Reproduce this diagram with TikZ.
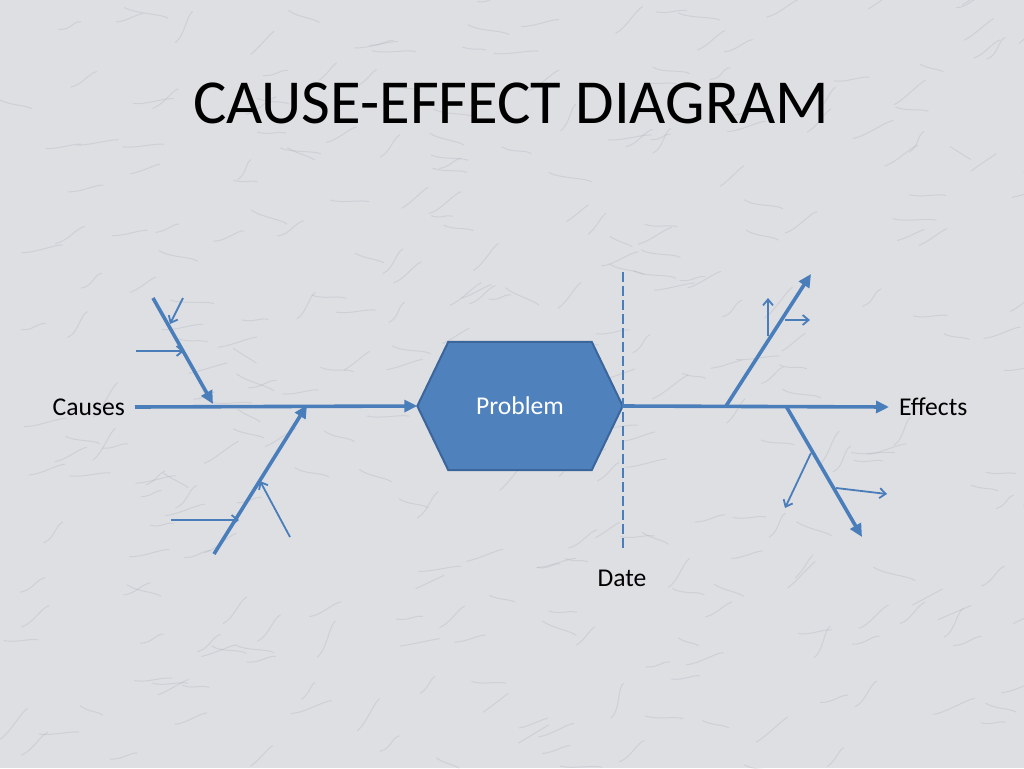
\documentclass[tikz,border=0pt]{standalone}
\usepackage{fontspec}
\setmainfont{Carlito}
\usetikzlibrary{arrows.meta,calc}

\definecolor{bone}{HTML}{4A7EBB}
\definecolor{hexfill}{HTML}{4F81BD}
\definecolor{hexline}{HTML}{3B659B}
\definecolor{marble}{HTML}{DEDFE3}
\definecolor{vein}{HTML}{9A9CA4}

\tikzset{
    spine/.style={line width=3.6pt,color=bone,-{Triangle[length=13pt,width=12pt]}},
    twig/.style={line width=1.8pt,color=bone,-{Straight Barb[length=6pt,width=10pt]}},
    lbl/.style={font=\fontsize{25.6}{30}\selectfont,text=black,inner sep=0pt},
}

\begin{document}
\begin{tikzpicture}[x=1pt,y=-1pt]
    % slide and marble background
    \useasboundingbox (0,0) rectangle (1024,768);
    \fill[marble] (0,0) rectangle (1024,768);
    \pgfmathsetseed{7}
    \foreach \i in {1,...,320} {
        \pgfmathsetmacro{\vx}{rnd*1024}
        \pgfmathsetmacro{\vy}{rnd*768}
        \pgfmathsetmacro{\va}{-40+rnd*80}
        \draw[vein,opacity=0.22,line width=1pt,line cap=round] (\vx,\vy) .. controls +(\va:12) and +(\va+180:8) .. ++(\va-15:20+rnd*25);
    }

    \node[font=\fontsize{62.6}{70}\selectfont] (title) at (511,103) {CAUSE-EFFECT DIAGRAM};

    % problem head
    \node[minimum width=205pt,minimum height=128pt,inner sep=0pt] (prob) at (520,406) {};
    \filldraw[fill=hexfill,draw=hexline,line width=2pt]
        (prob.west) -- ($(prob.north west)+(31,0)$) -- ($(prob.north east)+(-31,0)$)
        -- (prob.east) -- ($(prob.south east)+(-31,0)$) -- ($(prob.south west)+(31,0)$) -- cycle;
    \node[lbl,text=white] at (prob) {Problem};

    \node[lbl,anchor=east] (causes)  at (125,407) {Causes};
    \node[lbl,anchor=west] (effects) at (899,407) {Effects};
    \node[lbl] (date) at (622,578) {Date};

    % date line
    \coordinate (dtop) at (623,272);
    \coordinate (dbot) at (623,548);
    \draw[bone,line width=2pt,dash pattern=on 10pt off 4pt] (dtop) -- (dbot);

    % spines
    \draw[spine] ([xshift=10pt]causes.east) -- (prob.west);
    \draw[spine] (prob.east) -- ([xshift=-10pt]effects.west);

    % cause bones
    \coordinate (c1s) at (153,298);
    \coordinate (c1e) at (213,404);
    \coordinate (c2s) at (214,554);
    \coordinate (c2e) at (307,405);
    \draw[spine] (c1s) -- (c1e);
    \draw[spine] (c2s) -- (c2e);

    \coordinate (t1s) at (183,298);  \coordinate (t1e) at (170,324);
    \coordinate (t2s) at (136,351);  \coordinate (t2e) at (184,351);
    \coordinate (t3s) at (171,520);  \coordinate (t3e) at (239,520);
    \coordinate (t4s) at (290,537);  \coordinate (t4e) at (260,481);
    \draw[twig] (t1s) -- (t1e);
    \draw[twig] (t2s) -- (t2e);
    \draw[twig] (t3s) -- (t3e);
    \draw[twig] (t4s) -- (t4e);

    % effect bones
    \coordinate (e1s) at (726,406);
    \coordinate (e1e) at (811,274);
    \coordinate (e2s) at (786,406);
    \coordinate (e2e) at (862,537);
    \draw[spine] (e1s) -- (e1e);
    \draw[spine] (e2s) -- (e2e);

    \coordinate (u1s) at (768,336);  \coordinate (u1e) at (768,298);
    \coordinate (u2s) at (785,320);  \coordinate (u2e) at (810,320);
    \coordinate (u3s) at (811,453);  \coordinate (u3e) at (785,508);
    \coordinate (u4s) at (836,488);  \coordinate (u4e) at (887,494);
    \draw[twig] (u1s) -- (u1e);
    \draw[twig] (u2s) -- (u2e);
    \draw[twig] (u3s) -- (u3e);
    \draw[twig] (u4s) -- (u4e);
\end{tikzpicture}
\end{document}
